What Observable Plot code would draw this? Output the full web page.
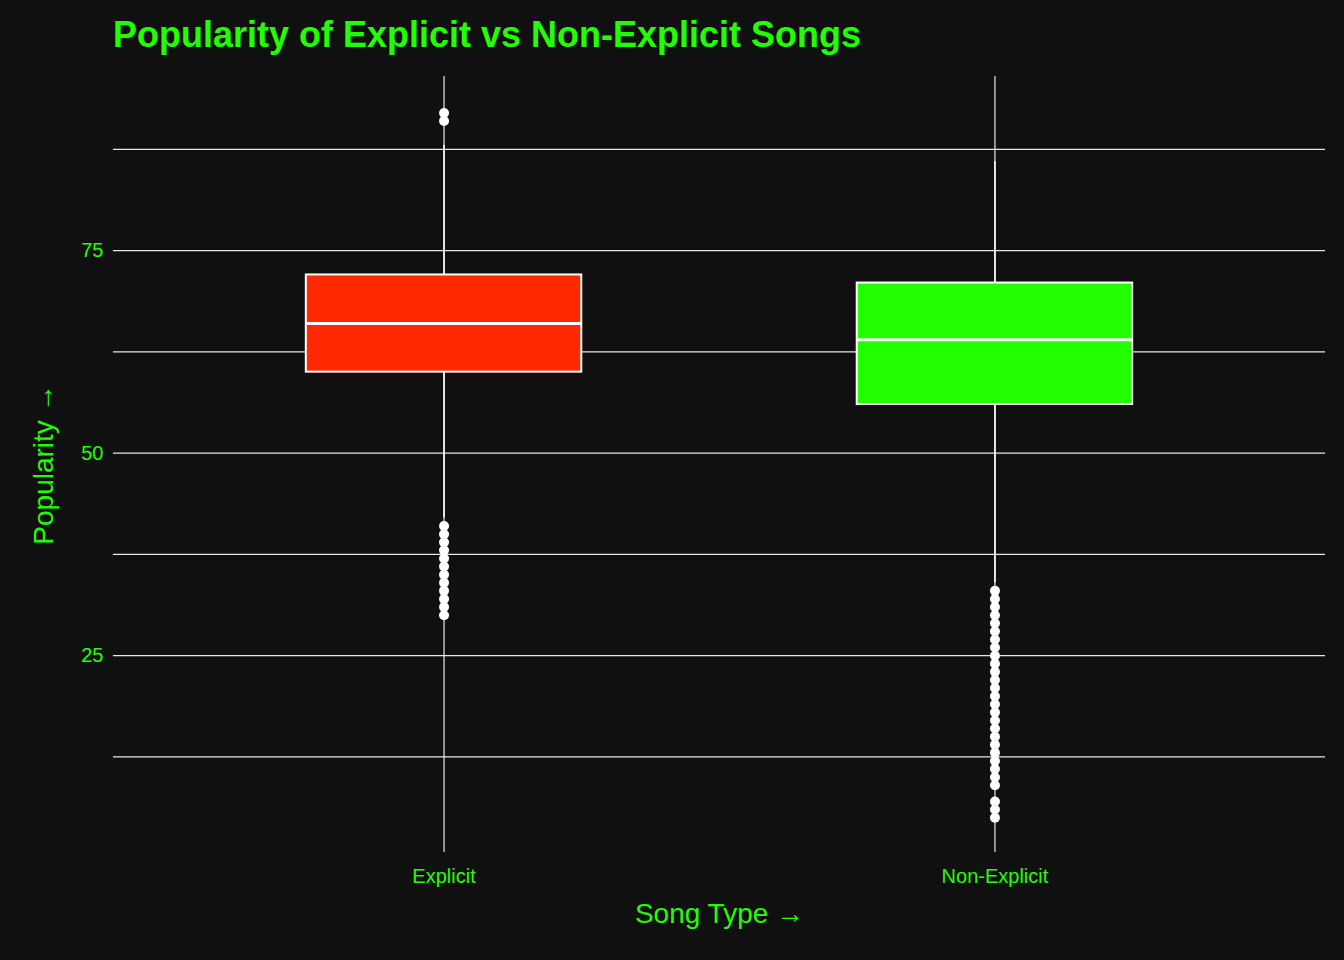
<!DOCTYPE html>
<html>
<head>
<meta charset="utf-8">
<script src="https://cdn.jsdelivr.net/npm/d3@7"></script>
<script src="https://cdn.jsdelivr.net/npm/@observablehq/plot@0.6"></script>
<style>
  body { margin: 0; background: #101010; font-family: "Liberation Sans", Arial, sans-serif; }
  #title { color: #22ff00; font-weight: bold; font-size: 36px; padding: 14px 0 0 113px; height: 46px; }
</style>
</head>
<body>
<div id="title">Popularity of Explicit vs Non-Explicit Songs</div>
<div id="chart"></div>
<script>
const types = ["Explicit", "Non-Explicit"];
const q1 = [60, 56];
const median = [66, 64];
const q3 = [72, 71];
const whiskerLow = [42, 34];
const whiskerHigh = [88, 86];
const colors = ["#ff2a00", "#22ff00"];
const outliersExplicit = [30, 31, 32, 33, 34, 35, 36, 37, 38, 39, 40, 41, 91, 92];
const outliersNonExplicit = [5, 6, 7, 9, 10, 11, 12, 13, 14, 15, 16, 17, 18, 19, 20, 21, 22, 23, 24, 25, 26, 27, 28, 29, 30, 31, 32, 33];

const boxes = types.map((t, i) => ({
  i: i + 1, type: t, q1: q1[i], median: median[i], q3: q3[i],
  lo: whiskerLow[i], hi: whiskerHigh[i], color: colors[i]
}));
const outliers = [
  ...outliersExplicit.map(v => ({ i: 1, v })),
  ...outliersNonExplicit.map(v => ({ i: 2, v }))
];

const plot = Plot.plot({
  width: 1344,
  height: 900,
  marginTop: 16,
  marginBottom: 108,
  marginLeft: 113,
  marginRight: 19,
  style: { background: "#101010", color: "#22ff00", fontFamily: "Liberation Sans, Arial, sans-serif", fontSize: "20px" },
  x: { domain: [0.4, 2.6], ticks: [1, 2], tickFormat: d => types[d - 1], tickSize: 0, label: "Song Type", labelAnchor: "center", labelOffset: 70, tickPadding: 16 },
  y: { domain: [0.7, 96.5], ticks: [25, 50, 75], tickSize: 0, label: "Popularity", labelAnchor: "center", labelOffset: 80, tickPadding: 10 },
  marks: [
    Plot.ruleY([12.5, 25, 37.5, 50, 62.5, 75, 87.5], { stroke: "white", strokeWidth: 1.2, strokeOpacity: 0.9 }),
    Plot.ruleX([1, 2], { stroke: "white", strokeWidth: 1.2, strokeOpacity: 0.9 }),
    Plot.ruleX(boxes, { x: "i", y1: "lo", y2: "q1", stroke: "white", strokeWidth: 1.5 }),
    Plot.ruleX(boxes, { x: "i", y1: "q3", y2: "hi", stroke: "white", strokeWidth: 1.5 }),
    Plot.rect(boxes, { x1: d => d.i - 0.25, x2: d => d.i + 0.25, y1: "q1", y2: "q3", fill: "color", stroke: "white", strokeWidth: 2 }),
    Plot.ruleY(boxes, { y: "median", x1: d => d.i - 0.25, x2: d => d.i + 0.25, stroke: "white", strokeWidth: 3 }),
    Plot.dot(outliers, { x: "i", y: "v", r: 5, fill: "white" })
  ]
});
plot.querySelectorAll("[aria-label$='axis label'] text, g[aria-label='x-axis label'] text, g[aria-label='y-axis label'] text").forEach(t => t.style.fontSize = "28px");
document.getElementById("chart").append(plot);
</script>
</body>
</html>
